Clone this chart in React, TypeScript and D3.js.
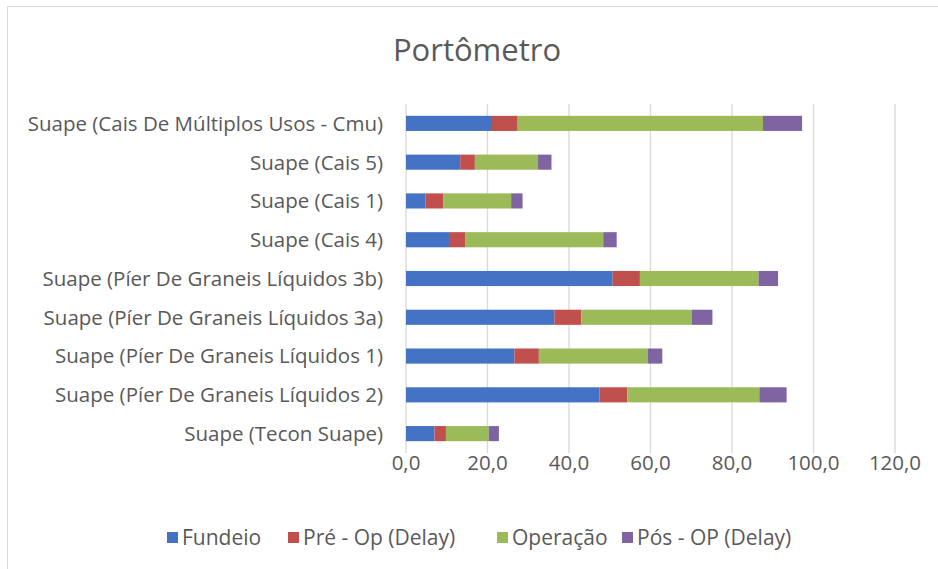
import React, { useEffect, useRef } from 'react';
import * as d3 from 'd3';

const categories = [
  'Suape (Cais De Múltiplos Usos - Cmu)',
  'Suape (Cais 5)',
  'Suape (Cais 1)',
  'Suape (Cais 4)',
  'Suape (Píer De Graneis Líquidos 3b)',
  'Suape (Píer De Graneis Líquidos 3a)',
  'Suape (Píer De Graneis Líquidos 1)',
  'Suape (Píer De Graneis Líquidos 2)',
  'Suape (Tecon Suape)',
];

const fundeio = [21.1, 13.3, 4.8, 10.8, 50.7, 36.4, 26.6, 47.5, 7.0];
const preOp = [6.3, 3.6, 4.4, 3.7, 6.7, 6.6, 6.0, 6.8, 2.8];
const operacao = [60.2, 15.5, 16.6, 33.9, 29.1, 27.1, 26.7, 32.4, 10.5];
const posOp = [9.6, 3.3, 2.8, 3.3, 4.8, 5.1, 3.6, 6.7, 2.5];

const seriesNames = ['Fundeio', 'Pré - Op (Delay)', 'Operação', 'Pós - OP (Delay)'];
const seriesColors = ['#4472C4', '#C0504D', '#9BBB59', '#8064A2'];
const xTicks = [0, 20, 40, 60, 80, 100, 120];

const W = 938;
const H = 569;
const FONT = '"Open Sans", "Noto Sans", sans-serif';
const TEXT = '#595959';

export default function App() {
  const svgRef = useRef<SVGSVGElement | null>(null);

  useEffect(() => {
    const svg = d3.select(svgRef.current);
    svg.selectAll('*').remove();

    // chart frame
    svg.append('rect')
      .attr('x', 7.5).attr('y', 6.5)
      .attr('width', W + 20).attr('height', H + 20)
      .attr('fill', '#fff')
      .attr('stroke', '#d9d9d9');

    const x = d3.scaleLinear().domain([0, 120]).range([406, 895]);
    const y = d3.scaleBand<string>()
      .domain(categories)
      .range([104, 453])
      .paddingInner(0.61)
      .paddingOuter(0.305);

    // gridlines
    svg.append('g')
      .selectAll('line')
      .data(xTicks)
      .enter()
      .append('line')
      .attr('x1', d => x(d)).attr('x2', d => x(d))
      .attr('y1', 104).attr('y2', 453)
      .attr('stroke', '#d9d9d9')
      .attr('stroke-width', 1.3);

    // stacked data
    const rows = categories.map((c, i) => ({
      cat: c,
      s0: fundeio[i],
      s1: preOp[i],
      s2: operacao[i],
      s3: posOp[i],
    }));
    const stack = d3.stack<any>().keys(['s0', 's1', 's2', 's3']);
    const layers = stack(rows);

    svg.append('g')
      .selectAll('g')
      .data(layers)
      .enter()
      .append('g')
      .attr('fill', (_d, i) => seriesColors[i])
      .selectAll('rect')
      .data(d => d)
      .enter()
      .append('rect')
      .attr('x', d => x(d[0]))
      .attr('y', d => y(d.data.cat) ?? 0)
      .attr('width', d => x(d[1]) - x(d[0]))
      .attr('height', y.bandwidth());

    // category labels
    svg.append('g')
      .selectAll('text')
      .data(categories)
      .enter()
      .append('text')
      .attr('x', 383)
      .attr('y', d => (y(d) ?? 0) + y.bandwidth() / 2)
      .attr('dy', '0.36em')
      .attr('text-anchor', 'end')
      .attr('font-family', FONT)
      .attr('font-size', 20.5)
      .attr('fill', TEXT)
      .text(d => d);

    // x tick labels
    const fmt = (v: number) => v.toFixed(1).replace('.', ',');
    svg.append('g')
      .selectAll('text')
      .data(xTicks)
      .enter()
      .append('text')
      .attr('x', d => x(d))
      .attr('y', 463)
      .attr('dy', '0.36em')
      .attr('text-anchor', 'middle')
      .attr('font-family', FONT)
      .attr('font-size', 20.5)
      .attr('fill', TEXT)
      .text(d => fmt(d));

    // title
    svg.append('text')
      .attr('x', 477)
      .attr('y', 50)
      .attr('dy', '0.36em')
      .attr('text-anchor', 'middle')
      .attr('font-family', FONT)
      .attr('font-size', 31)
      .attr('fill', TEXT)
      .text('Portômetro');

    // legend
    const legendX = [167, 288, 497, 622];
    const lg = svg.append('g')
      .selectAll('g')
      .data(seriesNames)
      .enter()
      .append('g')
      .attr('transform', (_d, i) => `translate(${legendX[i]}, 537)`);
    lg.append('rect')
      .attr('x', 0).attr('y', -5)
      .attr('width', 11).attr('height', 11)
      .attr('fill', (_d, i) => seriesColors[i]);
    lg.append('text')
      .attr('x', 15)
      .attr('y', 0)
      .attr('dy', '0.36em')
      .attr('font-family', FONT)
      .attr('font-size', 21)
      .attr('fill', TEXT)
      .text(d => d);
  }, []);

  return (
    <svg
      ref={svgRef}
      width={W}
      height={H}
      style={{ position: 'absolute', left: 0, top: 0, display: 'block', background: '#fff' }}
    />
  );
}
